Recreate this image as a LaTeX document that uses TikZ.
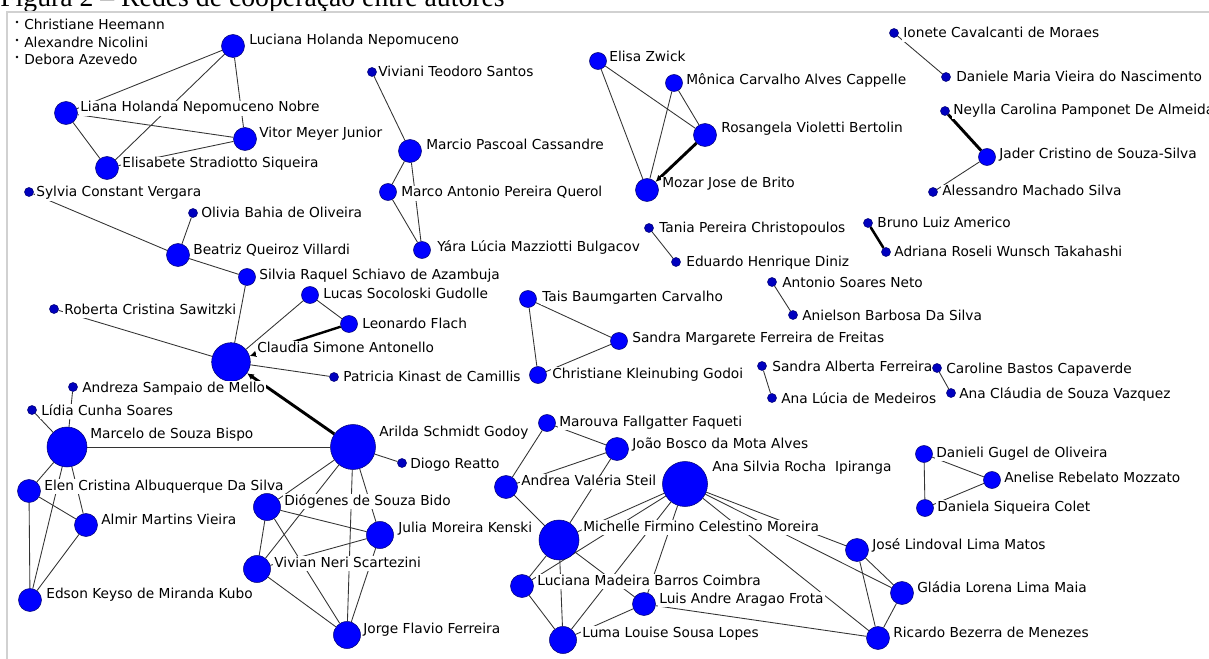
\documentclass[tikz,border=0pt]{standalone}
\usepackage{fontspec}
\setmainfont{DejaVu Sans}
\newfontfamily\capfont{Liberation Serif}
\usetikzlibrary{arrows.meta,backgrounds}

\begin{document}
\begin{tikzpicture}[
  x=0.75pt,
  y=-0.75pt,
  >=Latex,
  actor/.style={circle, draw=blue!45!black, line width=0.4pt, fill=blue, inner sep=0pt, minimum size=#1},
  dotnode/.style={actor=6.75pt, fill=blue!75!black},
  midnode/.style={actor=12.75pt},
  bignode/.style={actor=17.25pt},
  largenode/.style={actor=20.25pt},
  lone/.style={circle, fill=black, inner sep=0pt, minimum size=2.2pt},
  lbl/.style={anchor=base west, fill=white, inner sep=0.8pt, text height=7.8pt, text depth=2.2pt, font=\fontsize{10.3}{12}\selectfont},
  tie/.style={draw=black!80, line width=0.65pt},
  strongtie/.style={draw=black, line width=2.2pt},
  arrowtie/.style={strongtie, -{Latex[length=5pt,width=5pt]}}
]
\useasboundingbox (0,0) rectangle (1209,659);
\clip (0,0) rectangle (1209,659);

% caption and frame
\node[anchor=base west, inner sep=0pt, font=\capfont\fontsize{20.8}{24}\selectfont] (caption) at (0,7)
  {Figura 2 – Redes de cooperação entre autores};
\draw[black!18, line width=1.5pt] (7,12) rectangle (1230,680);

% isolates
\node[lone] (heemann) at (17,22) {}; \node[lbl] (heemannL) at (23,30) {Christiane Heemann};
\node[lone] (nicolini) at (17,40) {}; \node[lbl] (nicoliniL) at (23,48) {Alexandre Nicolini};
\node[lone] (azevedo) at (17,57) {}; \node[lbl] (azevedoL) at (23,65) {Debora Azevedo};

% Nepomuceno group
\node[bignode] (lhn) at (233,46) {}; \node[lbl] (lhnL) at (248,45) {Luciana Holanda Nepomuceno};
\node[bignode] (lhnn) at (66,113) {}; \node[lbl] (lhnnL) at (79,112) {Liana Holanda Nepomuceno Nobre};
\node[bignode] (vmj) at (245,139) {}; \node[lbl] (vmjL) at (258,138) {Vitor Meyer Junior};
\node[bignode] (ess) at (107,168) {}; \node[lbl] (essL) at (121,168) {Elisabete Stradiotto Siqueira};

% Antonello / Godoy / Bispo group
\node[dotnode] (scv) at (29,192) {}; \node[lbl] (scvL) at (35,197) {Sylvia Constant Vergara};
\node[dotnode] (obo) at (193,213) {}; \node[lbl] (oboL) at (200,218) {Olivia Bahia de Oliveira};
\node[bignode] (bqv) at (178,255) {}; \node[lbl] (bqvL) at (192,254) {Beatriz Queiroz Villardi};
\node[midnode] (srs) at (247,277) {}; \node[lbl] (srsL) at (258,279) {Silvia Raquel Schiavo de Azambuja};
\node[midnode] (lsg) at (310,295) {}; \node[lbl] (lsgL) at (322,298) {Lucas Socoloski Gudolle};
\node[midnode] (lfl) at (349,324) {}; \node[lbl] (lflL) at (361,328) {Leonardo Flach};
\node[dotnode] (rcs) at (54,309) {}; \node[lbl] (rcsL) at (63,314) {Roberta Cristina Sawitzki};
\node[actor=29pt] (csa) at (231,362) {}; \node[lbl] (csaL) at (256,352) {Claudia Simone Antonello};
\node[dotnode] (pkc) at (334,377) {}; \node[lbl] (pkcL) at (342,381) {Patricia Kinast de Camillis};
\node[dotnode] (asm) at (73,387) {}; \node[lbl] (asmL) at (81,392) {Andreza Sampaio de Mello};
\node[dotnode] (lcs) at (32,410) {}; \node[lbl] (lcsL) at (40,415) {Lídia Cunha Soares};
\node[actor=30pt] (msb) at (67,447) {}; \node[lbl] (msbL) at (89,438) {Marcelo de Souza Bispo};
\node[actor=33.75pt] (asg) at (353,447) {}; \node[lbl] (asgL) at (378,436) {Arilda Schmidt Godoy};
\node[dotnode] (dre) at (402,463) {}; \node[lbl] (dreL) at (409,468) {Diogo Reatto};
\node[bignode] (eca) at (29,491) {}; \node[lbl] (ecaL) at (43,490) {Elen Cristina Albuquerque Da Silva};
\node[bignode] (amv) at (86,525) {}; \node[lbl] (amvL) at (100,524) {Almir Martins Vieira};
\node[bignode] (ekm) at (30,600) {}; \node[lbl] (ekmL) at (45,598) {Edson Keyso de Miranda Kubo};
\node[largenode] (dsb) at (267,507) {}; \node[lbl] (dsbL) at (283,505) {Diógenes de Souza Bido};
\node[largenode] (jmk) at (380,535) {}; \node[lbl] (jmkL) at (397,532) {Julia Moreira Kenski};
\node[largenode] (vns) at (257,569) {}; \node[lbl] (vnsL) at (273,567) {Vivian Neri Scartezini};
\node[largenode] (jff) at (347,635) {}; \node[lbl] (jffL) at (362,633) {Jorge Flavio Ferreira};

% Cassandre group
\node[dotnode] (vts) at (372,72) {}; \node[lbl] (vtsL) at (377,77) {Viviani Teodoro Santos};
\node[bignode] (mpc) at (410,151) {}; \node[lbl] (mpcL) at (425,150) {Marcio Pascoal Cassandre};
\node[midnode] (mpq) at (388,192) {}; \node[lbl] (mpqL) at (400,197) {Marco Antonio Pereira Querol};
\node[midnode] (ylm) at (422,250) {}; \node[lbl] (ylmL) at (436,252) {Yára Lúcia Mazziotti Bulgacov};

% Brito group
\node[midnode] (ezw) at (598,61) {}; \node[lbl] (ezwL) at (608,62) {Elisa Zwick};
\node[midnode] (mca) at (674,83) {}; \node[lbl] (mcaL) at (685,85) {Mônica Carvalho Alves Cappelle};
\node[bignode] (rvb) at (705,135) {}; \node[lbl] (rvbL) at (720,133) {Rosangela Violetti Bertolin};
\node[bignode] (mjb) at (647,190) {}; \node[lbl] (mjbL) at (661,188) {Mozar Jose de Brito};

% small pairs on the right
\node[dotnode] (icm) at (894,33) {}; \node[lbl] (icmL) at (902,38) {Ionete Cavalcanti de Moraes};
\node[dotnode] (dmv) at (946,77) {}; \node[lbl] (dmvL) at (955,82) {Daniele Maria Vieira do Nascimento};
\node[dotnode] (ncp) at (945,111) {}; \node[lbl] (ncpL) at (952,115) {Neylla Carolina Pamponet De Almeida};
\node[midnode] (jcs) at (987,157) {}; \node[lbl] (jcsL) at (998,159) {Jader Cristino de Souza-Silva};
\node[dotnode] (ams) at (933,192) {}; \node[lbl] (amsL) at (941,196) {Alessandro Machado Silva};
\node[dotnode] (tpc) at (649,228) {}; \node[lbl] (tpcL) at (658,233) {Tania Pereira Christopoulos};
\node[dotnode] (ehd) at (676,262) {}; \node[lbl] (ehdL) at (685,267) {Eduardo Henrique Diniz};
\node[dotnode] (bla) at (868,223) {}; \node[lbl] (blaL) at (876,228) {Bruno Luiz Americo};
\node[dotnode] (arw) at (886,252) {}; \node[lbl] (arwL) at (893,257) {Adriana Roseli Wunsch Takahashi};
\node[dotnode] (asn) at (772,282) {}; \node[lbl] (asnL) at (781,287) {Antonio Soares Neto};
\node[dotnode] (abs) at (793,315) {}; \node[lbl] (absL) at (801,320) {Anielson Barbosa Da Silva};
\node[dotnode] (saf) at (762,366) {}; \node[lbl] (safL) at (771,371) {Sandra Alberta Ferreira};
\node[dotnode] (alm) at (772,398) {}; \node[lbl] (almL) at (780,403) {Ana Lúcia de Medeiros};
\node[dotnode] (cbc) at (937,368) {}; \node[lbl] (cbcL) at (945,373) {Caroline Bastos Capaverde};
\node[dotnode] (acs) at (951,393) {}; \node[lbl] (acsL) at (958,398) {Ana Cláudia de Souza Vazquez};

% Carvalho triangle
\node[midnode] (tbc) at (528,299) {}; \node[lbl] (tbcL) at (541,301) {Tais Baumgarten Carvalho};
\node[midnode] (smf) at (619,341) {}; \node[lbl] (smfL) at (631,342) {Sandra Margarete Ferreira de Freitas};
\node[midnode] (ckg) at (538,375) {}; \node[lbl] (ckgL) at (551,378) {Christiane Kleinubing Godoi};

% Ipiranga / Moreira group
\node[midnode] (mff) at (547,423) {}; \node[lbl] (mffL) at (558,426) {Marouva Fallgatter Faqueti};
\node[bignode] (jba) at (617,449) {}; \node[lbl] (jbaL) at (631,448) {João Bosco da Mota Alves};
\node[bignode] (avs) at (506,487) {}; \node[lbl] (avsL) at (520,485) {Andrea Valéria Steil};
\node[actor=33.75pt] (asr) at (685,484) {}; \node[lbl] (asrL) at (711,471) {Ana Silvia Rocha\ \ Ipiranga};
\node[actor=30pt] (mfc) at (559,540) {}; \node[lbl] (mfcL) at (582,531) {Michelle Firmino Celestino Moreira};
\node[bignode] (lmb) at (522,586) {}; \node[lbl] (lmbL) at (536,585) {Luciana Madeira Barros Coimbra};
\node[bignode] (laf) at (644,604) {}; \node[lbl] (lafL) at (658,603) {Luis Andre Aragao Frota};
\node[largenode] (lls) at (563,640) {}; \node[lbl] (llsL) at (581,637) {Luma Louise Sousa Lopes};
\node[bignode] (jlm) at (857,550) {}; \node[lbl] (jlmL) at (871,549) {José Lindoval Lima Matos};
\node[bignode] (glm) at (902,593) {}; \node[lbl] (glmL) at (916,592) {Gládia Lorena Lima Maia};
\node[bignode] (rbm) at (878,638) {}; \node[lbl] (rbmL) at (892,637) {Ricardo Bezerra de Menezes};

% Mozzato triangle
\node[midnode] (dgo) at (924,454) {}; \node[lbl] (dgoL) at (935,457) {Danieli Gugel de Oliveira};
\node[midnode] (arm) at (992,480) {}; \node[lbl] (armL) at (1003,482) {Anelise Rebelato Mozzato};
\node[midnode] (dsc) at (925,508) {}; \node[lbl] (dscL) at (936,511) {Daniela Siqueira Colet};

% ties (behind nodes and labels)
\begin{pgfonlayer}{background}
\draw[tie] (lhn) -- (lhnn); \draw[tie] (lhn) -- (ess); \draw[tie] (lhn) -- (vmj);
\draw[tie] (lhnn) -- (vmj); \draw[tie] (lhnn) -- (ess); \draw[tie] (vmj) -- (ess);

\draw[tie] (scv) -- (bqv); \draw[tie] (obo) -- (bqv); \draw[tie] (bqv) -- (srs);
\draw[tie] (srs) -- (csa); \draw[tie] (rcs) -- (csa); \draw[tie] (lsg) -- (csa);
\draw[tie] (lsg) -- (lfl); \draw[tie] (csa) -- (pkc);
\draw[arrowtie, line width=1.8pt] (lfl) -- (csa);
\draw[arrowtie] (asg) -- (csa);
\draw[tie] (asm) -- (msb); \draw[tie] (lcs) -- (msb); \draw[tie] (msb) -- (asg);
\draw[tie] (msb) -- (eca); \draw[tie] (msb) -- (amv); \draw[tie] (msb) -- (ekm);
\draw[tie] (eca) -- (amv); \draw[tie] (eca) -- (ekm); \draw[tie] (amv) -- (ekm);
\draw[tie] (asg) -- (dre); \draw[tie] (asg) -- (dsb); \draw[tie] (asg) -- (vns);
\draw[tie] (asg) -- (jff); \draw[tie] (asg) -- (jmk);
\draw[tie] (dsb) -- (jmk); \draw[tie] (dsb) -- (vns); \draw[tie] (dsb) -- (jff);
\draw[tie] (vns) -- (jmk); \draw[tie] (vns) -- (jff); \draw[tie] (jmk) -- (jff);

\draw[tie] (vts) -- (mpc); \draw[tie] (mpc) -- (mpq); \draw[tie] (mpc) -- (ylm); \draw[tie] (mpq) -- (ylm);

\draw[tie] (ezw) -- (rvb); \draw[tie] (ezw) -- (mjb); \draw[tie] (mca) -- (rvb); \draw[tie] (mca) -- (mjb);
\draw[arrowtie] (rvb) -- (mjb);

\draw[tie] (icm) -- (dmv); \draw[strongtie] (ncp) -- (jcs); \draw[tie] (jcs) -- (ams);
\draw[tie] (tpc) -- (ehd); \draw[strongtie, line width=1.9pt] (bla) -- (arw);
\draw[tie] (asn) -- (abs); \draw[tie] (saf) -- (alm); \draw[tie] (cbc) -- (acs);

\draw[tie] (tbc) -- (smf); \draw[tie] (tbc) -- (ckg); \draw[tie] (smf) -- (ckg);

\draw[tie] (mff) -- (jba); \draw[tie] (mff) -- (avs); \draw[tie] (jba) -- (avs);
\draw[tie] (jba) -- (mfc); \draw[tie] (avs) -- (mfc);
\draw[tie] (asr) -- (mfc); \draw[tie] (asr) -- (lmb); \draw[tie] (asr) -- (lls); \draw[tie] (asr) -- (laf);
\draw[tie] (asr) -- (jlm); \draw[tie] (asr) -- (glm); \draw[tie] (asr) -- (rbm);
\draw[tie] (mfc) -- (lmb); \draw[tie] (mfc) -- (lls); \draw[tie] (mfc) -- (laf);
\draw[tie] (lmb) -- (lls); \draw[tie] (laf) -- (lls); \draw[tie] (laf) -- (rbm);
\draw[tie] (jlm) -- (glm); \draw[tie] (jlm) -- (rbm); \draw[tie] (glm) -- (rbm);

\draw[tie] (dgo) -- (arm); \draw[tie] (dgo) -- (dsc); \draw[tie] (arm) -- (dsc);
\end{pgfonlayer}
\end{tikzpicture}
\end{document}
